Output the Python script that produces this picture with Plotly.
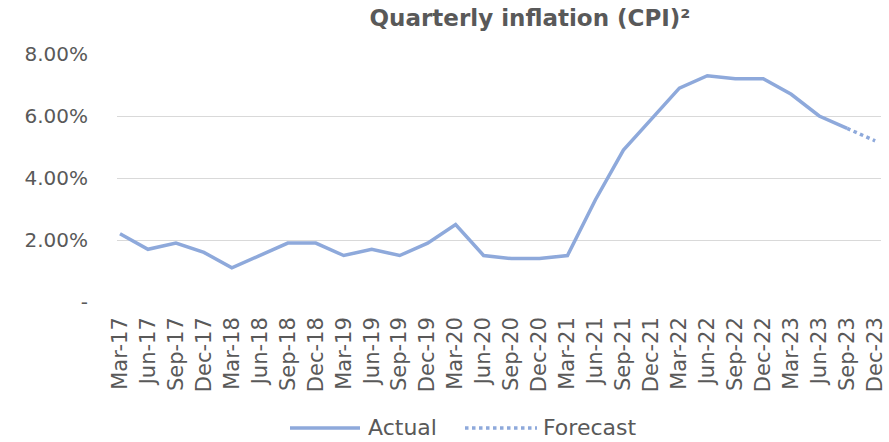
import plotly.graph_objects as go

quarters = ["Mar-17","Jun-17","Sep-17","Dec-17","Mar-18","Jun-18","Sep-18","Dec-18",
            "Mar-19","Jun-19","Sep-19","Dec-19","Mar-20","Jun-20","Sep-20","Dec-20",
            "Mar-21","Jun-21","Sep-21","Dec-21","Mar-22","Jun-22","Sep-22","Dec-22",
            "Mar-23","Jun-23","Sep-23","Dec-23"]
actual = [2.2,1.7,1.9,1.6,1.1,1.5,1.9,1.9,1.5,1.7,1.5,1.9,2.5,1.5,1.4,1.4,
          1.5,3.3,4.9,5.9,6.9,7.3,7.2,7.2,6.7,6.0,5.6,None]
forecast = [None]*26 + [5.6, 5.2]
series_names = ["Actual", "Forecast"]
y_ticks = [0, 2, 4, 6, 8]
y_tick_labels = ["-", "2.00%", "4.00%", "6.00%", "8.00%"]

color = "#8EA9DB"
grey = "#595959"
font = "DejaVu Sans"

W, H = 889, 442
L, R, T, B = 117, 8, 54, 140
PW, PH = W - L - R, H - T - B

def px_x(p):
    return (p - L) / PW

def px_y(p):
    return (H - B - p) / PH

fig = go.Figure()
fig.add_trace(go.Scatter(x=quarters, y=actual, mode="lines", name=series_names[0],
                         line=dict(color=color, width=3.5), showlegend=False))
fig.add_trace(go.Scatter(x=quarters, y=forecast, mode="lines", name=series_names[1],
                         line=dict(color=color, width=3.5, dash="dot"), showlegend=False))

# legend drawn as shapes + text
leg_y = px_y(428)
shapes = [
    dict(type="line", xref="paper", yref="paper", x0=px_x(290), x1=px_x(360),
         y0=leg_y, y1=leg_y, line=dict(color=color, width=3.5)),
    dict(type="line", xref="paper", yref="paper", x0=px_x(465), x1=px_x(537),
         y0=leg_y, y1=leg_y, line=dict(color=color, width=3.5, dash="dot")),
]
annotations = [
    dict(text=series_names[0], xref="paper", yref="paper", x=px_x(366), y=px_y(427),
         xanchor="left", yanchor="middle", showarrow=False,
         font=dict(family=font, size=22, color=grey)),
    dict(text=series_names[1], xref="paper", yref="paper", x=px_x(541), y=px_y(427),
         xanchor="left", yanchor="middle", showarrow=False,
         font=dict(family=font, size=22, color=grey)),
]

fig.update_layout(
    width=W, height=H,
    margin=dict(l=L, r=R, t=T, b=B),
    paper_bgcolor="white", plot_bgcolor="white",
    font=dict(family=font, color=grey, size=20),
    title=dict(text="<b>Quarterly inflation (CPI)²</b>", x=530/W, xanchor="center",
               y=1 - 18/H, yanchor="middle", xref="container", yref="container",
               font=dict(family=font, size=23, color=grey)),
    showlegend=False,
    shapes=shapes,
    annotations=annotations,
)
fig.update_xaxes(type="category", range=[-0.107, 27.21], tickangle=-90,
                 showgrid=False, showline=False, ticks="", automargin=False,
                 ticklabelstandoff=10,
                 tickfont=dict(family=font, size=21, color=grey))
fig.update_yaxes(range=[0, 8], tickvals=y_ticks, ticktext=y_tick_labels,
                 showgrid=True, gridcolor="#D9D9D9", gridwidth=1.3,
                 zeroline=False, showline=False, ticks="", ticklabelstandoff=28,
                 automargin=False, tickfont=dict(family=font, size=20, color=grey))

fig.write_html("out.html", config={"displayModeBar": False},
               post_script="document.body.style.margin='0';document.body.style.overflow='hidden';")
